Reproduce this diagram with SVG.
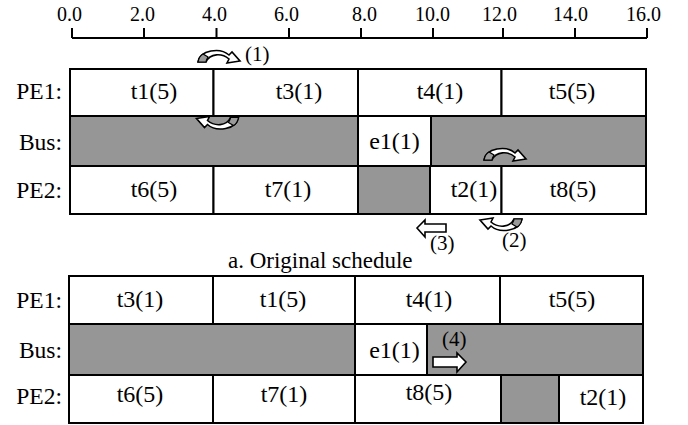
<svg xmlns="http://www.w3.org/2000/svg" xmlns:xlink="http://www.w3.org/1999/xlink" width="688" height="425" viewBox="0 0 688 425">
  <style>
    text { font-family: "Liberation Serif", "Times New Roman", serif; fill: #000; }
    .tick { font-size: 20px; }
    .lbl { font-size: 24px; }
    .rl { font-size: 23.5px; text-anchor: end; }
    .mid { text-anchor: middle; }
    .num { font-size: 21px; }
    .cap { font-size: 23px; }
    .cell { fill: #fff; stroke: #000; stroke-width: 2; }
    .idle { fill: #969696; stroke: #000; stroke-width: 2; }
    .axis { fill: none; stroke: #000; stroke-width: 2; }
    .move { fill: #fff; stroke: #000; stroke-width: 1.6; stroke-linejoin: miter; }
    .under { fill: #9a9a9a; stroke: #000; stroke-width: 1.2; }
  </style>
  <defs>
    <!-- curved "swap" arrow: arch from lower left, head pointing down-right -->
    <g id="bend">
      <path class="move" d="M198,62 C200,50 220,47 229,55 L232,52 L240,61 L227,63 L229,59 C222,53 210,53 206,62 Z"/>
      <path class="under" d="M198,62 C199,57 201,55 203,54 L208,57 C207,59 206,60 206,62 Z"/>
    </g>
  </defs>

  <!-- time axis -->
  <g id="axis">
    <path class="axis" d="M72,38 H647 M72,28 V38 M144,28 V38 M216.5,28 V38 M289,28 V38 M361,28 V38 M433,28 V38 M503,28 V38 M575,28 V38 M647,28 V38"/>
    <text class="tick" x="57" y="21">0.0</text>
    <text class="tick" x="130" y="21">2.0</text>
    <text class="tick" x="202" y="21">4.0</text>
    <text class="tick" x="274" y="21">6.0</text>
    <text class="tick" x="352" y="21">8.0</text>
    <text class="tick" x="415" y="21">10.0</text>
    <text class="tick" x="482" y="21">12.0</text>
    <text class="tick" x="553" y="21">14.0</text>
    <text class="tick" x="626" y="21">16.0</text>
  </g>

  <!-- original schedule -->
  <g id="orig-pe1">
    <text class="rl" x="62" y="99">PE1:</text>
    <g id="o-t1"><rect class="cell" x="70" y="69" width="143.5" height="47"/><text class="lbl mid" x="154" y="99">t1(5)</text></g>
    <g id="o-t3"><rect class="cell" x="213.5" y="69" width="144.5" height="47"/><text class="lbl mid" x="299" y="99">t3(1)</text></g>
    <g id="o-t4"><rect class="cell" x="358" y="69" width="143.5" height="47"/><text class="lbl mid" x="440" y="99">t4(1)</text></g>
    <g id="o-t5"><rect class="cell" x="501.5" y="69" width="144.5" height="47"/><text class="lbl mid" x="572" y="99">t5(5)</text></g>
  </g>
  <g id="orig-bus">
    <text class="rl" x="62" y="150">Bus:</text>
    <rect class="idle" x="70" y="116" width="288" height="50"/>
    <g id="o-e1"><rect class="cell" x="358" y="116" width="73" height="50"/><text class="lbl mid" x="394.5" y="149">e1(1)</text></g>
    <rect class="idle" x="431" y="116" width="215" height="50"/>
  </g>
  <g id="orig-pe2">
    <text class="rl" x="62" y="198">PE2:</text>
    <g id="o-t6"><rect class="cell" x="70" y="166" width="143.5" height="48"/><text class="lbl mid" x="154" y="197">t6(5)</text></g>
    <g id="o-t7"><rect class="cell" x="213.5" y="166" width="144.5" height="48"/><text class="lbl mid" x="288" y="197">t7(1)</text></g>
    <rect class="idle" x="358" y="166" width="72" height="48"/>
    <g id="o-t2"><rect class="cell" x="430" y="166" width="71.5" height="48"/><text class="lbl mid" x="474" y="197">t2(1)</text></g>
    <g id="o-t8"><rect class="cell" x="501.5" y="166" width="144.5" height="48"/><text class="lbl mid" x="573" y="197">t8(5)</text></g>
  </g>

  <text class="cap" x="228" y="268">a. Original schedule</text>

  <!-- modified schedule -->
  <g id="new-pe1">
    <text class="rl" x="62" y="308">PE1:</text>
    <g id="n-t3"><rect class="cell" x="69" y="276" width="144" height="48"/><text class="lbl mid" x="140" y="307">t3(1)</text></g>
    <g id="n-t1"><rect class="cell" x="213" y="276" width="142" height="48"/><text class="lbl mid" x="283" y="307">t1(5)</text></g>
    <g id="n-t4"><rect class="cell" x="355" y="276" width="145" height="48"/><text class="lbl mid" x="429" y="307">t4(1)</text></g>
    <g id="n-t5"><rect class="cell" x="500" y="276" width="143" height="48"/><text class="lbl mid" x="572" y="307">t5(5)</text></g>
  </g>
  <g id="new-bus">
    <text class="rl" x="62" y="358">Bus:</text>
    <rect class="idle" x="69" y="324" width="286" height="51"/>
    <g id="n-e1"><rect class="cell" x="355" y="324" width="72" height="51"/><text class="lbl mid" x="394.5" y="358">e1(1)</text></g>
    <rect class="idle" x="427" y="324" width="216" height="51"/>
  </g>
  <g id="new-pe2">
    <text class="rl" x="62" y="404">PE2:</text>
    <g id="n-t6"><rect class="cell" x="69" y="375" width="144" height="48"/><text class="lbl mid" x="140" y="402">t6(5)</text></g>
    <g id="n-t7"><rect class="cell" x="213" y="375" width="142" height="48"/><text class="lbl mid" x="284" y="402">t7(1)</text></g>
    <g id="n-t8"><rect class="cell" x="355" y="375" width="146" height="48"/><text class="lbl mid" x="429" y="400">t8(5)</text></g>
    <rect class="idle" x="501" y="375" width="58" height="48"/>
    <g id="n-t2"><rect class="cell" x="559" y="375" width="84" height="48"/><text class="lbl mid" x="603" y="405">t2(1)</text></g>
  </g>

  <!-- rescheduling moves -->
  <g id="moves">
    <use xlink:href="#bend"/>
    <text class="num" x="245" y="61">(1)</text>
    <use xlink:href="#bend" transform="translate(217.5,122.5) rotate(180) translate(-219,-57)"/>
    <use xlink:href="#bend" transform="translate(286,98)"/>
    <use xlink:href="#bend" transform="translate(501,224) rotate(180) translate(-219,-57)"/>
    <text class="num" x="502" y="247">(2)</text>
    <polygon class="move" points="417,228 425,220 425,224 446,224 446,232 425,232 425,237"/>
    <text class="num" x="430" y="250">(3)</text>
    <polygon class="move" points="433,357 457,357 457,353 466,362 457,372 457,367 433,367"/>
    <text class="num" x="442" y="346">(4)</text>
  </g>
</svg>
